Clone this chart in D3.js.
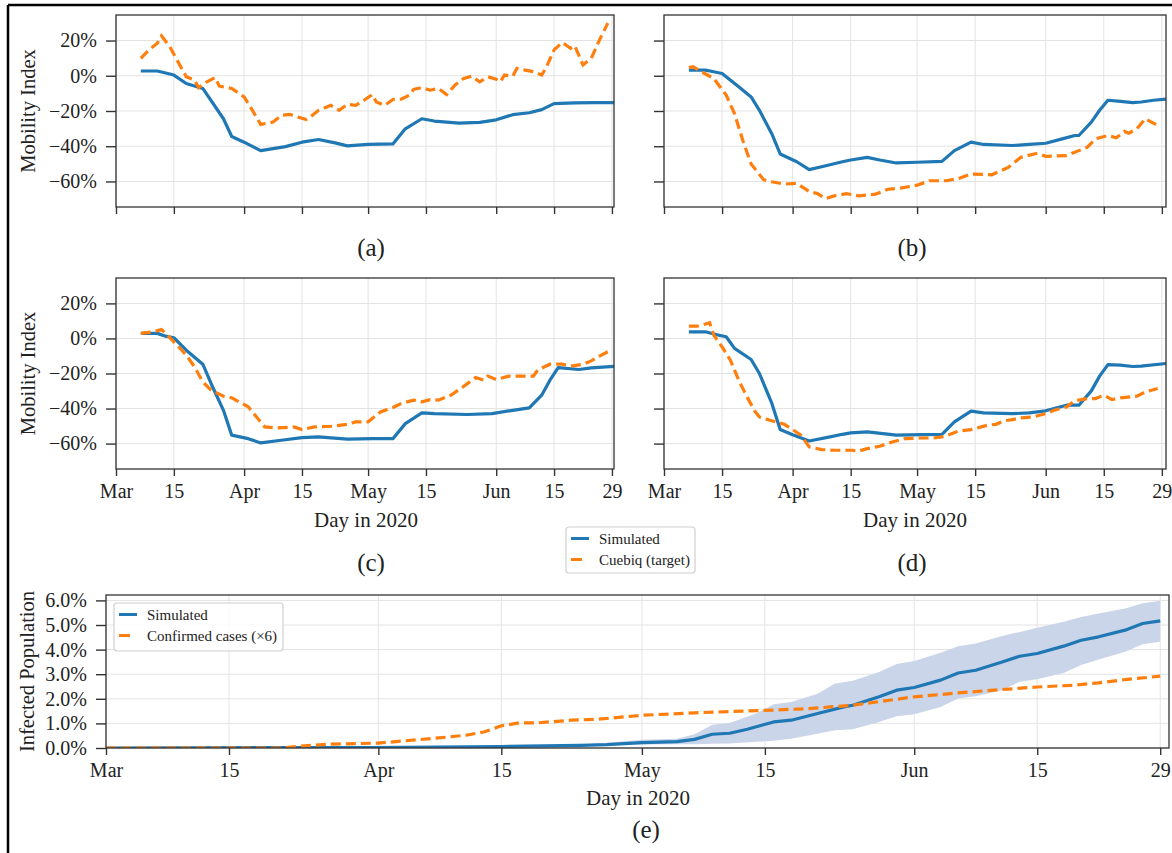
<!DOCTYPE html>
<html>
<head>
<meta charset="utf-8">
<script src="https://cdn.jsdelivr.net/npm/d3@7"></script>
<style>
body { margin: 0; background: #fff; }
svg text { font-family: "Liberation Serif", "Times New Roman", serif; fill: #222; }
</style>
</head>
<body>
<script>
var width = 1172, height = 853;

// x ticks, as days since Mar 1 2020
var tickDays = [0, 14, 31, 45, 61, 75, 92, 106, 120];
var tickLabels = ['Mar', '15', 'Apr', '15', 'May', '15', 'Jun', '15', '29'];
var mobTicks = [-60, -40, -20, 0, 20];
var infTicks = [0, 1, 2, 3, 4, 5, 6];

// mobility index (%), [day, value]
var aSim = [[6,2.7],[10,2.7],[14,0.4],[17,-4.4],[21,-7.2],[26,-24.4],[28,-34.5],[31,-37.7],[35,-42.5],[41,-40.2],[45,-37.7],[49,-36.2],[53,-38.1],[56,-39.8],[61,-39.0],[67,-38.7],[70,-30.1],[74,-24.4],[77,-25.7],[83,-26.9],[88,-26.5],[92,-25],[96,-22.1],[100,-21],[103,-19.2],[106,-15.8],[111,-15.4],[116,-15.2],[121,-15.2]];
var aCue = [[6,9.9],[8,14.7],[10,18.5],[11,22.7],[13,16.6],[15,8.0],[17,-0.6],[19,-2.5],[20,-6.7],[22,-3.4],[24,-1],[25,-5.9],[28,-7.2],[31,-12],[33,-19.6],[35,-27.6],[38,-26.3],[40,-22.5],[42,-21.9],[44,-23.4],[46,-24.8],[47,-23.4],[49,-19.6],[52,-16.8],[54,-19.6],[56,-16.2],[58,-16.8],[60,-13.9],[62,-10.7],[63,-14.9],[65,-16.8],[67,-13.5],[69,-13.3],[71,-11],[72,-7.8],[74,-6.7],[76,-8.2],[78,-7.2],[80,-10.7],[82,-5.3],[84,-1.7],[86,-0.2],[88,-3.4],[90,-0.6],[92,-1.9],[93,-3.4],[94,0.4],[96,-0.2],[97,4.2],[99,3.2],[101,2.3],[103,0.4],[104,4.2],[106,14.7],[108,18.9],[110,15.6],[111,17],[113,6.1],[115,9.9],[117,20.4],[119,29.9]];

var bSim = [[6,3.2],[10,3.2],[12,2.3],[14,1.3],[18,-6.3],[21,-12],[23,-19.6],[26,-33],[28,-44.4],[32,-48.8],[35,-53.3],[39,-51.1],[43,-48.8],[45,-47.8],[49,-46.3],[52,-47.8],[56,-49.5],[61,-49.1],[67,-48.6],[70,-42.5],[74,-37.7],[77,-39],[84,-39.6],[88,-39],[92,-38.3],[96,-35.8],[99,-33.9],[100,-33.9],[103,-26.3],[105,-19.6],[107,-13.9],[110,-14.5],[113,-15.2],[115,-14.9],[118,-13.9],[121,-13.3]];
var bCue = [[6,4.6],[7,5.1],[9,2.3],[12,-1.5],[15,-11],[17,-21.5],[19,-36.8],[21,-50.1],[24,-59],[26,-60.2],[29,-61.5],[32,-61.1],[35,-65.7],[37,-66.9],[39,-69.7],[41,-68.2],[44,-66.9],[47,-68.2],[51,-67.2],[54,-64.4],[57,-63.8],[61,-62.1],[64,-59.6],[68,-59.6],[71,-58.3],[74,-55.8],[79,-56.2],[83,-52],[86,-46.3],[90,-44],[92,-45.7],[97,-45.3],[100,-42.5],[102,-40.6],[104,-35.8],[107,-33.9],[109,-35.2],[111,-31.6],[112,-32.6],[114,-30.1],[116,-24.4],[119,-28.2]];

var cSim = [[6,2.9],[10,2.9],[12,1.3],[14,0.4],[17,-6.7],[21,-14.7],[23,-25.7],[26,-41],[28,-55.2],[32,-57.2],[35,-59.6],[40,-58.1],[45,-56.6],[49,-56.2],[56,-57.5],[62,-57.2],[67,-57.2],[70,-48.6],[74,-42.5],[77,-42.9],[85,-43.4],[91,-42.9],[96,-41],[100,-39.6],[103,-32.4],[105,-23.8],[107,-16.6],[112,-17.7],[115,-16.8],[121,-15.8]];
var cCue = [[6,2.9],[9,3.8],[11,5.1],[12,2.9],[14,-1.9],[17,-9.5],[19,-16.2],[21,-24.8],[23,-29.5],[26,-33],[28,-33.9],[32,-39],[34,-44.8],[36,-50.5],[39,-51.1],[43,-50.5],[45,-52],[48,-50.5],[52,-50.1],[56,-49],[58,-47.6],[61,-47.6],[64,-41.9],[67,-39.4],[69,-37.1],[72,-35.2],[74,-36.2],[76,-34.9],[78,-35.2],[81,-32.4],[84,-27.6],[87,-22.3],[89,-23.8],[90,-21.5],[92,-23.4],[95,-21.5],[98,-21.5],[101,-21.5],[102,-18.1],[105,-14.7],[108,-14.7],[110,-15.8],[113,-14.7],[115,-12.8],[117,-10.1],[119,-7.6]];

var dSim = [[6,3.8],[10,3.8],[12,2.5],[15,1],[17,-5.7],[21,-12],[23,-20],[26,-37.1],[28,-52],[31,-54.9],[35,-58.5],[40,-56.2],[43,-54.7],[45,-53.9],[49,-53.3],[56,-55.2],[62,-54.9],[67,-54.7],[70,-47.6],[74,-41.5],[77,-42.5],[84,-42.9],[88,-42.5],[92,-41.3],[97,-38.1],[100,-38.1],[103,-29.9],[105,-21.5],[107,-14.9],[110,-15.2],[113,-16],[115,-15.8],[121,-14.3]];
var dCue = [[6,7],[8,7],[10,8.2],[11,9],[12,1.9],[14,-4.8],[16,-12.4],[18,-23.8],[20,-33.3],[22,-41.9],[23,-44.8],[26,-47],[29,-49],[31,-52],[33,-55.2],[35,-61.9],[38,-63.4],[41,-63.8],[45,-63.8],[47,-64.2],[49,-62.9],[52,-61.5],[55,-59.1],[58,-57.2],[62,-56.8],[65,-56.8],[67,-56.2],[69,-54.7],[71,-52.8],[74,-52],[75,-51.4],[78,-49.5],[80,-49],[82,-47],[84,-46.3],[86,-45.3],[89,-44.8],[92,-42.9],[94,-41],[97,-39.1],[99,-35.6],[102,-34.3],[104,-34.3],[106,-32.4],[108,-34.9],[110,-33.9],[114,-33],[116,-30.5],[119,-28.6]];

// infected population (%), panel (e)
var eSim = [[0,0],[30,0.02],[45,0.06],[54,0.11],[57,0.14],[61,0.22],[63,0.24],[65,0.26],[67,0.35],[69,0.56],[71,0.6],[73,0.76],[76,1.06],[78,1.13],[81,1.4],[84,1.67],[85,1.74],[88,2.08],[90,2.35],[92,2.46],[95,2.76],[97,3.05],[99,3.16],[102,3.5],[104,3.73],[106,3.84],[109,4.14],[111,4.38],[113,4.52],[116,4.79],[118,5.06],[120,5.17]];
var eBandDays = [0,30,45,54,61,65,67,69,71,74,76,78,81,83,85,88,90,92,95,97,99,102,104,106,109,111,113,116,118,120];
var eHi = [0,0.02,0.07,0.12,0.34,0.38,0.56,0.95,1.02,1.40,1.78,1.87,2.21,2.62,2.73,3.09,3.41,3.54,3.87,4.14,4.25,4.55,4.72,4.89,5.13,5.33,5.47,5.67,5.88,5.99];
var eLo = [0,0.02,0.05,0.1,0.14,0.15,0.15,0.17,0.18,0.25,0.29,0.38,0.58,0.72,0.76,1.06,1.29,1.37,1.67,2.01,2.10,2.35,2.69,2.80,3.05,3.37,3.60,3.91,4.22,4.32];
var eCases = [[0,0],[20,0],[21,0.04],[25,0.15],[31,0.2],[37,0.38],[41,0.52],[43,0.65],[45,0.9],[47,1.02],[49,1.02],[53,1.13],[56,1.17],[61,1.33],[67,1.43],[75,1.53],[80,1.6],[85,1.74],[92,2.08],[97,2.24],[101,2.35],[106,2.48],[110,2.55],[113,2.65],[116,2.78],[120,2.92]];

var blue = '#1f77b4', orange = '#ff7f0e';

var svg = d3.select('body').append('svg').attr('width', width).attr('height', height);

// outer frame (top and left edges visible)
svg.append('line').attr('x1', 8).attr('x2', width).attr('y1', 5).attr('y2', 5)
  .attr('stroke', '#000').attr('stroke-width', 2.5);
svg.append('line').attr('x1', 8).attr('x2', 8).attr('y1', 5).attr('y2', height)
  .attr('stroke', '#000').attr('stroke-width', 2.5);

function pct(d) { return (d < 0 ? '\u2212' : '') + Math.abs(d) + '%'; }

function drawPanel(p) {
  var x = d3.scaleLinear().domain([0, p.xmax]).range([p.left, p.right]);
  var y = d3.scaleLinear().domain(p.ydom).range([p.bottom, p.top]);
  var g = svg.append('g');

  var clipId = 'clip' + p.cap.replace(/\W/g, '');
  svg.append('clipPath').attr('id', clipId).append('rect')
    .attr('x', p.left).attr('y', p.top)
    .attr('width', p.right - p.left).attr('height', p.bottom - p.top);

  // grid
  g.selectAll('.gx').data(tickDays).join('line')
    .attr('x1', d => x(d)).attr('x2', d => x(d))
    .attr('y1', p.top).attr('y2', p.bottom)
    .attr('stroke', '#e3e3e3').attr('stroke-width', 1);
  g.selectAll('.gy').data(p.yticks).join('line')
    .attr('x1', p.left).attr('x2', p.right)
    .attr('y1', d => y(d)).attr('y2', d => y(d))
    .attr('stroke', '#e3e3e3').attr('stroke-width', 1);

  var plot = g.append('g').attr('clip-path', 'url(#' + clipId + ')');
  var line = d3.line().x(d => x(d[0])).y(d => y(d[1]));

  if (p.band) {
    var area = d3.area()
      .x((d, i) => x(eBandDays[i]))
      .y0((d, i) => y(eLo[i]))
      .y1((d, i) => y(eHi[i]));
    plot.append('path').datum(eBandDays).attr('d', area)
      .attr('fill', '#cbd5e9');
  }

  plot.append('path').datum(p.sim).attr('d', line)
    .attr('fill', 'none').attr('stroke', blue).attr('stroke-width', 3.2)
    .attr('stroke-linejoin', 'round');
  plot.append('path').datum(p.cue).attr('d', line)
    .attr('fill', 'none').attr('stroke', orange).attr('stroke-width', 3.2)
    .attr('stroke-dasharray', '10,5');

  // frame
  g.append('rect').attr('x', p.left).attr('y', p.top)
    .attr('width', p.right - p.left).attr('height', p.bottom - p.top)
    .attr('fill', 'none').attr('stroke', '#333').attr('stroke-width', 1.3);

  // x axis
  var xa = d3.axisBottom(x).tickValues(tickDays).tickSize(7).tickPadding(8)
    .tickFormat((d, i) => p.xlabels ? tickLabels[i] : '');
  var gx = g.append('g').attr('transform', 'translate(0,' + p.bottom + ')').call(xa);
  gx.select('.domain').remove();
  gx.selectAll('line').attr('stroke', '#333').attr('stroke-width', 1.4);
  gx.selectAll('text').attr('font-size', 20).attr('font-family', null);

  // y axis
  var ya = d3.axisLeft(y).tickValues(p.yticks).tickSize(10).tickPadding(9)
    .tickFormat(p.yfmt ? p.yfmt : () => '');
  var gy = g.append('g').attr('transform', 'translate(' + p.left + ',0)').call(ya);
  gy.select('.domain').remove();
  gy.selectAll('line').attr('stroke', '#333').attr('stroke-width', 1.4);
  gy.selectAll('text').attr('font-size', 20).attr('font-family', null);

  if (p.ylabel) {
    g.append('text').attr('transform', 'translate(' + p.ylabelX + ',' + (p.top + p.bottom) / 2 + ') rotate(-90)')
      .attr('text-anchor', 'middle').attr('font-size', 20.5).text(p.ylabel);
  }
  if (p.xlabels) {
    g.append('text').attr('x', p.xtitleX).attr('y', p.xtitleY)
      .attr('text-anchor', 'middle').attr('font-size', 21).text('Day in 2020');
  }
  g.append('text').attr('x', p.capX).attr('y', p.capY)
    .attr('text-anchor', 'middle').attr('font-size', 25).text(p.cap);
}

var mobDom = [-74.5, 34.5];
drawPanel({sim: aSim, cue: aCue, left: 116, right: 614, top: 15, bottom: 207, xmax: 120.5,
  ydom: mobDom, yticks: mobTicks, yfmt: pct, ylabel: 'Mobility Index', ylabelX: 35,
  xlabels: false, cap: '(a)', capX: 371, capY: 256});
drawPanel({sim: bSim, cue: bCue, left: 664, right: 1166, top: 15, bottom: 207, xmax: 121,
  ydom: mobDom, yticks: mobTicks, yfmt: null, ylabel: null,
  xlabels: false, cap: '(b)', capX: 912, capY: 256});
drawPanel({sim: cSim, cue: cCue, left: 116, right: 614, top: 278, bottom: 469, xmax: 120.5,
  ydom: mobDom, yticks: mobTicks, yfmt: pct, ylabel: 'Mobility Index', ylabelX: 35,
  xlabels: true, xtitleX: 366, xtitleY: 527, cap: '(c)', capX: 371, capY: 571});
drawPanel({sim: dSim, cue: dCue, left: 664, right: 1166, top: 278, bottom: 469, xmax: 121,
  ydom: mobDom, yticks: mobTicks, yfmt: null, ylabel: null,
  xlabels: true, xtitleX: 915, xtitleY: 527, cap: '(d)', capX: 912, capY: 571});
drawPanel({sim: eSim, cue: eCases, band: true, left: 106, right: 1169, top: 595, bottom: 748, xmax: 121,
  ydom: [0, 6.22], yticks: infTicks, yfmt: d => d.toFixed(1) + '%', ylabel: 'Infected Population', ylabelX: 34,
  xlabels: true, xtitleX: 638, xtitleY: 805, cap: '(e)', capX: 646, capY: 838});

// legends
function legend(x0, y0, w, h, names) {
  var g = svg.append('g');
  g.append('rect').attr('x', x0).attr('y', y0).attr('width', w).attr('height', h)
    .attr('rx', 3).attr('fill', '#fff').attr('fill-opacity', 0.85)
    .attr('stroke', '#d0d0d0').attr('stroke-width', 1.2);
  names.forEach(function(n, i) {
    var yy = y0 + 11.5 + i * 21;
    g.append('line').attr('x1', x0 + 5).attr('x2', x0 + 23).attr('y1', yy).attr('y2', yy)
      .attr('stroke', i ? orange : blue).attr('stroke-width', 3)
      .attr('stroke-dasharray', i ? '11,20' : null);
    g.append('text').attr('x', x0 + 33).attr('y', yy + 5).attr('font-size', 15).text(n);
  });
}
legend(566, 527, 129, 46, ['Simulated', 'Cuebiq (target)']);
legend(114, 603, 169, 48, ['Simulated', 'Confirmed cases (\u00d76)']);
</script>
</body>
</html>
